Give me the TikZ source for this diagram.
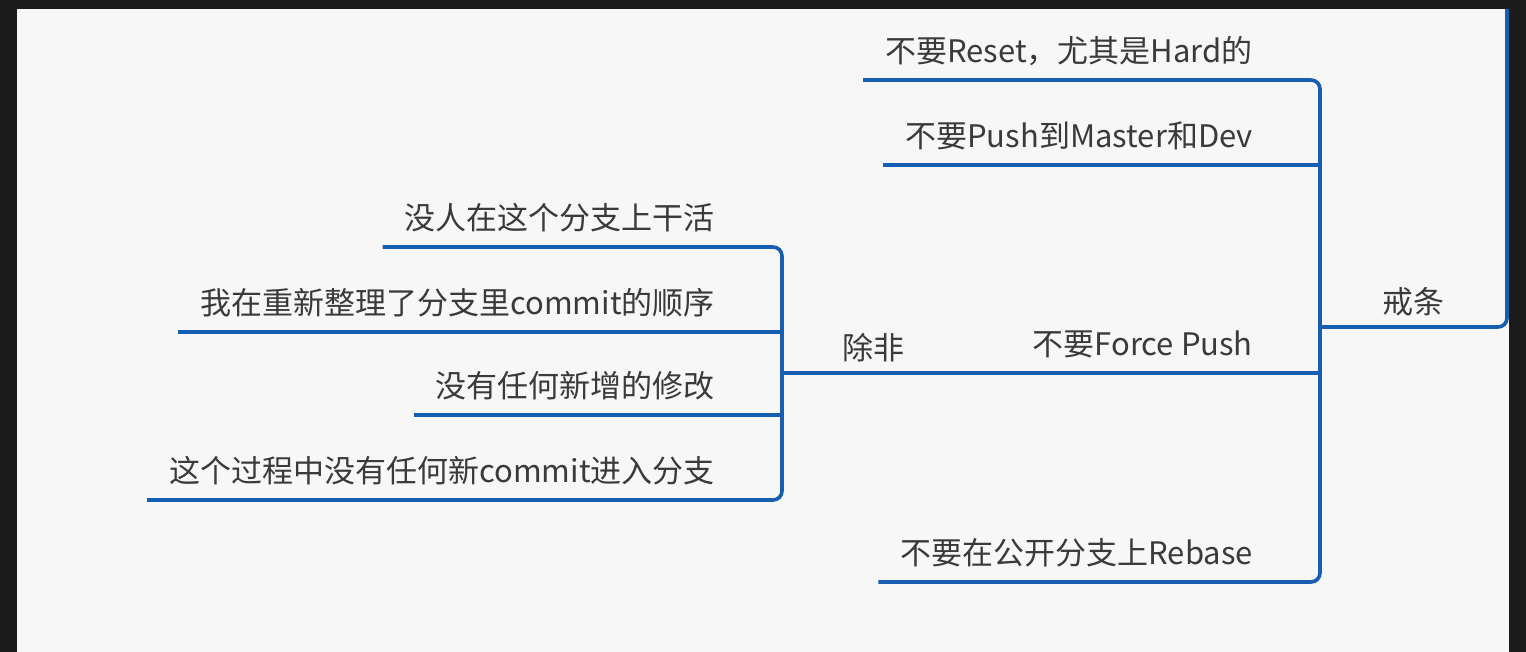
\documentclass[tikz,border=0pt]{standalone}
\usepackage{fontspec}
\setmainfont{Noto Sans CJK SC}
\usetikzlibrary{calc,positioning}
\definecolor{mapblue}{RGB}{21,94,178}
\definecolor{maptext}{RGB}{58,58,58}
\definecolor{panelbg}{RGB}{247,247,247}
\definecolor{framebg}{RGB}{27,27,27}

\begin{document}
\begin{tikzpicture}[x=1pt,y=-1pt]
    \tikzstyle{leaf}=[anchor=south east, text depth=0pt, inner xsep=22pt, inner ysep=17pt,
      text=maptext, font=\fontsize{31pt}{36pt}\selectfont]
    \tikzstyle{root}=[anchor=south, text depth=0pt, inner ysep=13pt,
      text=maptext, font=\fontsize{31pt}{36pt}\selectfont]
    \tikzstyle{branch}=[draw=mapblue, line width=3.6pt, rounded corners=9pt]

    % frame and panel
    \fill[framebg] (0,0) rectangle (1526,652);
    \fill[panelbg] (17,9) rectangle (1509,652);
    \useasboundingbox (0,0) rectangle (1526,652);

    \coordinate (jbus) at (1320,0);
    \coordinate (cbus) at (782,0);
    \coordinate (jtop) at (1507,9);

    % root
    \node[root] (jie) at (1413,327) {戒条};

    % children of jie
    \node[leaf] (reset)  at (1275,80)  {不要Reset，尤其是Hard的};
    \node[leaf] (push)   at (1275,165) {不要Push到Master和Dev};
    \node[leaf] (force)  at (1275,373) {不要Force Push};
    \node[leaf] (rebase) at (1275,582) {不要在公开分支上Rebase};

    % children of force
    \node[root] (chu) at (873,373) {除非};
    \node[leaf] (idle)     at (737,247) {没人在这个分支上干活};
    \node[leaf] (reorder)  at (737,332) {我在重新整理了分支里commit的顺序};
    \node[leaf] (nochange) at (737,415) {没有任何新增的修改};
    \node[leaf] (newc)     at (737,500) {这个过程中没有任何新commit进入分支};

    % connectors
    \draw[branch] (jie.south -| jbus) -- (jie.south -| jtop) -- (jtop);
    \draw[branch] (reset.south west) -| (jbus |- rebase.south) -- (rebase.south west);
    \draw[branch] (push.south west) -- (push.south -| jbus);
    \draw[branch] (cbus |- force.south) -- (force.south -| jbus);
    \draw[branch] (idle.south west) -| (cbus |- newc.south) -- (newc.south west);
    \draw[branch] (reorder.south west) -- (reorder.south -| cbus);
    \draw[branch] (nochange.south west) -- (nochange.south -| cbus);
\end{tikzpicture}
\end{document}
